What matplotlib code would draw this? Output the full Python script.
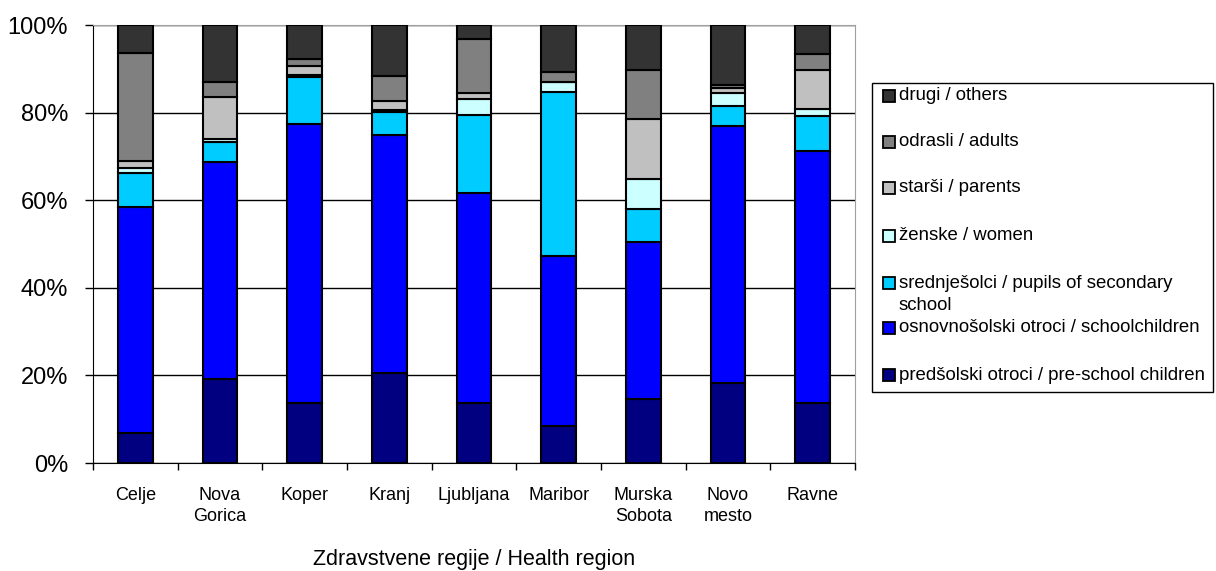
import matplotlib
matplotlib.use("Agg")
import matplotlib.pyplot as plt
from matplotlib.patches import Rectangle
import numpy as np

plt.rcParams['font.family'] = ['Liberation Sans', 'DejaVu Sans']

# regije
regions = ["Celje", "Nova\nGorica", "Koper", "Kranj", "Ljubljana", "Maribor",
           "Murska\nSobota", "Novo\nmesto", "Ravne"]

# deleži (%) po skupinah, od spodaj navzgor
predsolski = [6.8, 19.1, 13.6, 20.5, 13.6, 8.5, 14.5, 18.2, 13.6]
osnovnosolski = [51.6, 49.7, 63.9, 54.4, 48.0, 38.8, 36.0, 58.8, 57.6]
srednjesolci = [7.7, 4.5, 10.6, 5.3, 17.8, 37.5, 7.4, 4.6, 8.1]
zenske = [1.2, 0.6, 0.4, 0.5, 3.6, 2.1, 6.9, 2.9, 1.5]
starsi = [1.7, 9.6, 2.1, 1.9, 1.4, 0.2, 13.7, 1.2, 8.9]
odrasli = [24.5, 3.6, 1.6, 5.8, 12.3, 2.2, 11.2, 0.6, 3.7]
drugi = [6.5, 12.9, 7.8, 11.6, 3.3, 10.7, 10.3, 13.7, 6.6]

series = [predsolski, osnovnosolski, srednjesolci, zenske, starsi, odrasli, drugi]
labels = ["predšolski otroci / pre-school children",
          "osnovnošolski otroci / schoolchildren",
          "srednješolci / pupils of secondary\nschool",
          "ženske / women",
          "starši / parents",
          "odrasli / adults",
          "drugi / others"]
colors = ["#000080", "#0000FF", "#00CCFF", "#CCFFFF", "#C0C0C0", "#808080", "#333333"]

W, H = 1216, 571
fig = plt.figure(figsize=(W / 100, H / 100), dpi=100)
ax = fig.add_axes([93 / W, 1 - 463 / H, 762 / W, 438 / H])

x = np.arange(len(regions))
bottom = np.zeros(len(regions))
for vals, col in zip(series, colors):
    ax.bar(x, vals, 0.41, bottom=bottom, color=col, edgecolor="black",
           linewidth=1.5, zorder=3)
    bottom += np.array(vals)

ax.set_xlim(-0.5, len(regions) - 0.5)
ax.set_ylim(0, 100)
ax.set_yticks([0, 20, 40, 60, 80, 100])
ax.set_yticklabels(["0%", "20%", "40%", "60%", "80%", "100%"], fontsize=17)
ax.tick_params(axis="y", length=6, width=1, pad=12)
ax.yaxis.grid(True, color="black", linewidth=1, zorder=0)
ax.set_axisbelow(True)

ax.set_xticks(x)
ax.set_xticklabels(regions, fontsize=13, linespacing=1.35)
ax.tick_params(axis="x", length=0, pad=17)
ax.set_xticks(np.arange(-0.5, len(regions), 1), minor=True)
ax.tick_params(axis="x", which="minor", length=5, width=1)

for s in ["top", "right"]:
    ax.spines[s].set_color("#a0a0a0")
ax.spines["left"].set_color("black")
ax.spines["bottom"].set_color("black")

fig.text(474 / W, 1 - 559 / H, "Zdravstvene regije / Health region",
         fontsize=15.5, ha="center", va="center")

# legenda
lx0, ly0, lx1, ly1 = 872, 83, 1213, 392
fig.patches.append(Rectangle((lx0 / W, 1 - ly1 / H), (lx1 - lx0) / W, (ly1 - ly0) / H,
                             transform=fig.transFigure, facecolor="white",
                             edgecolor="black", linewidth=1))
item_y = [375, 328, 283, 236, 188, 142, 96]
for yy, lab, col in zip(item_y, labels, colors):
    fig.patches.append(Rectangle((883 / W, 1 - (yy + 6) / H), 12 / W, 12 / H,
                                 transform=fig.transFigure, facecolor=col,
                                 edgecolor="black", linewidth=1.3))
    lines = lab.split("\n")
    for i, line in enumerate(lines):
        fig.text(899 / W, 1 - (yy + 23 * i) / H, line, fontsize=13.4,
                 ha="left", va="center")

fig.savefig("out.png", dpi=100)
